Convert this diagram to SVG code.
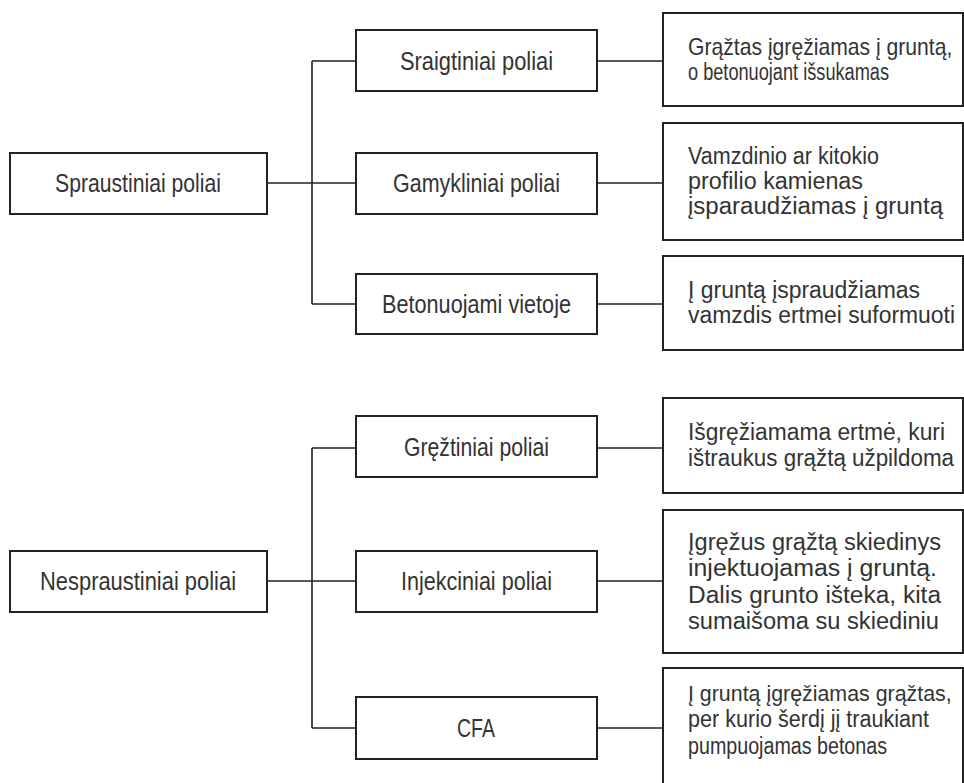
<svg xmlns="http://www.w3.org/2000/svg" width="964" height="783" viewBox="0 0 964 783">
<style>
.box{fill:#fff;stroke:#222;stroke-width:2}
.ln{fill:none;stroke:#222;stroke-width:1.6}
.n{font-family:"Liberation Sans","DejaVu Sans",sans-serif;font-size:25px;fill:#333;text-anchor:middle}
.d{font-family:"Liberation Sans","DejaVu Sans",sans-serif;font-size:23px;fill:#333}
</style>
<rect width="964" height="783" fill="#fff"/>
<g id="connectors">
<path class="ln" d="M267 183H312M312 61V304M312 61H356M312 183H356M312 304H356M597 61H663M597 183H663M597 304H663"/>
<path class="ln" d="M267 581H312M312 448V728M312 448H356M312 581H356M312 728H356M597 448H663M597 581H663M597 728H663"/>
</g>
<g id="spraustiniai"><rect class="box" x="10" y="153" width="257" height="61"/><text class="n" x="138" y="192" textLength="166" lengthAdjust="spacingAndGlyphs">Spraustiniai poliai</text></g>
<g id="sraigtiniai"><rect class="box" x="356" y="30" width="241" height="61"/><text class="n" x="476.5" y="70" textLength="153" lengthAdjust="spacingAndGlyphs">Sraigtiniai poliai</text></g>
<g id="gamykliniai"><rect class="box" x="356" y="153" width="241" height="61"/><text class="n" x="476.5" y="192" textLength="167" lengthAdjust="spacingAndGlyphs">Gamykliniai poliai</text></g>
<g id="betonuojami"><rect class="box" x="356" y="274" width="241" height="60"/><text class="n" x="476.5" y="313" textLength="189" lengthAdjust="spacingAndGlyphs">Betonuojami vietoje</text></g>
<g id="desc-sraigtiniai"><rect class="box" x="663" y="13" width="300" height="93"/>
<text class="d" transform="translate(688 55) scale(0.92 1)">Grąžtas įgręžiamas į gruntą,</text>
<text class="d" x="688" y="80" textLength="201" lengthAdjust="spacingAndGlyphs">o betonuojant išsukamas</text></g>
<g id="desc-gamykliniai"><rect class="box" x="663" y="123" width="300" height="117"/>
<text class="d" x="688" y="164" textLength="191" lengthAdjust="spacingAndGlyphs">Vamzdinio ar kitokio</text>
<text class="d" x="688" y="189" textLength="175" lengthAdjust="spacingAndGlyphs">profilio kamienas</text>
<text class="d" x="688" y="214" textLength="255" lengthAdjust="spacingAndGlyphs">įsparaudžiamas į gruntą</text></g>
<g id="desc-betonuojami"><rect class="box" x="663" y="256" width="300" height="94"/>
<text class="d" x="688" y="298" textLength="232" lengthAdjust="spacingAndGlyphs">Į gruntą įspraudžiamas</text>
<text class="d" x="688" y="323" textLength="267" lengthAdjust="spacingAndGlyphs">vamzdis ertmei suformuoti</text></g>
<g id="nespraustiniai"><rect class="box" x="10" y="551" width="257" height="61"/><text class="n" x="138" y="590" textLength="196" lengthAdjust="spacingAndGlyphs">Nespraustiniai poliai</text></g>
<g id="greztiniai"><rect class="box" x="356" y="416" width="241" height="61"/><text class="n" x="476.5" y="456" textLength="145" lengthAdjust="spacingAndGlyphs">Gręžtiniai poliai</text></g>
<g id="injekciniai"><rect class="box" x="356" y="551" width="241" height="61"/><text class="n" x="476.5" y="590" textLength="151" lengthAdjust="spacingAndGlyphs">Injekciniai poliai</text></g>
<g id="cfa"><rect class="box" x="356" y="697" width="241" height="62"/><text class="n" x="476" y="737" textLength="38" lengthAdjust="spacingAndGlyphs">CFA</text></g>
<g id="desc-greztiniai"><rect class="box" x="663" y="398" width="300" height="95"/>
<text class="d" x="688" y="440" textLength="257" lengthAdjust="spacingAndGlyphs">Išgręžiamama ertmė, kuri</text>
<text class="d" x="688" y="466" textLength="266" lengthAdjust="spacingAndGlyphs">ištraukus grąžtą užpildoma</text></g>
<g id="desc-injekciniai"><rect class="box" x="663" y="510" width="300" height="143"/>
<text class="d" x="688" y="550" textLength="253" lengthAdjust="spacingAndGlyphs">Įgręžus grąžtą skiedinys</text>
<text class="d" x="688" y="576" textLength="249" lengthAdjust="spacingAndGlyphs">injektuojamas į gruntą.</text>
<text class="d" x="688" y="603" textLength="253" lengthAdjust="spacingAndGlyphs">Dalis grunto išteka, kita</text>
<text class="d" x="688" y="629" textLength="251" lengthAdjust="spacingAndGlyphs">sumaišoma su skiediniu</text></g>
<g id="desc-cfa"><rect class="box" x="663" y="668" width="300" height="130"/>
<text class="d" transform="translate(688 701) scale(0.93 1)">Į gruntą įgręžiamas grąžtas,</text>
<text class="d" x="688" y="727" textLength="241" lengthAdjust="spacingAndGlyphs">per kurio šerdį jį traukiant</text>
<text class="d" x="688" y="754" textLength="199" lengthAdjust="spacingAndGlyphs">pumpuojamas betonas</text></g>
</svg>
